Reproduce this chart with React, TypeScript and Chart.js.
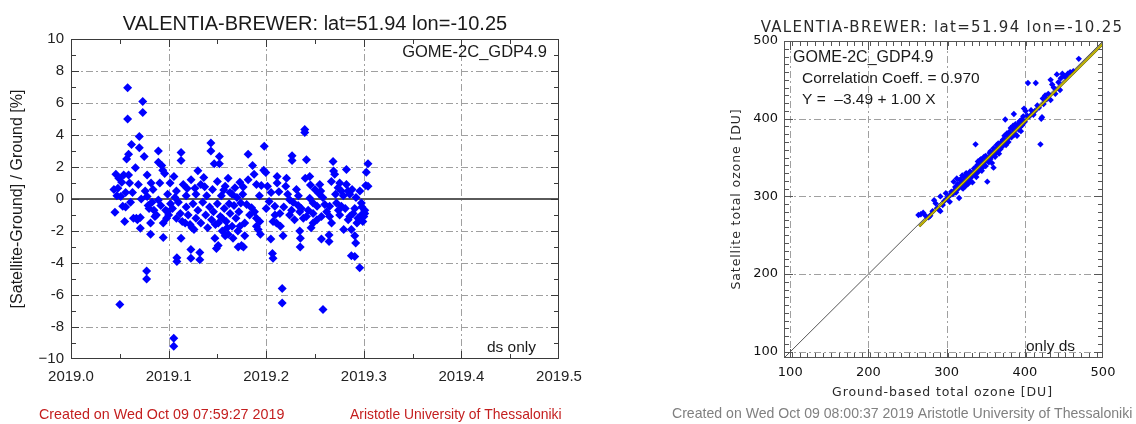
import React, { useEffect, useRef } from "react";
import { Chart, registerables } from "chart.js";

Chart.register(...registerables);

// ---------------- Left panel: time series of relative difference ----------------
const leftTitle = "VALENTIA-BREWER: lat=51.94 lon=-10.25";
const leftXTicks = [2019.0, 2019.1, 2019.2, 2019.3, 2019.4, 2019.5];
const leftYTicks = [-10, -8, -6, -4, -2, 0, 2, 4, 6, 8, 10];

// [decimal year, (Satellite-Ground)/Ground %]
const biasPoints: [number, number][] = [
  [2019.044, 0.6], [2019.045, -0.83], [2019.046, 1.55], [2019.047, 0.2], [2019.048, 0.67],
  [2019.049, 1.3], [2019.050, -6.6], [2019.051, 0.15], [2019.052, 1.05], [2019.053, -0.45],
  [2019.054, 1.5], [2019.055, -1.4], [2019.056, 0.4], [2019.056, -0.5], [2019.057, 2.5],
  [2019.058, 6.95], [2019.058, 5.0], [2019.059, 2.8], [2019.059, 1.5], [2019.060, 1.0],
  [2019.061, -0.2], [2019.062, 3.4], [2019.063, 0.4], [2019.064, -1.2], [2019.066, 1.95],
  [2019.067, -1.2], [2019.068, -1.3], [2019.069, 0.9], [2019.070, 3.9], [2019.070, 3.2],
  [2019.071, -1.15], [2019.071, -1.83], [2019.072, 0.0], [2019.0735, 6.1], [2019.0735, 5.4],
  [2019.075, 2.65], [2019.076, 0.5], [2019.0775, -4.5], [2019.0775, -5.0], [2019.078, 1.5],
  [2019.078, 0.15], [2019.079, -0.4], [2019.080, -0.6], [2019.0815, -1.5], [2019.0815, -2.2],
  [2019.082, 1.0], [2019.083, -0.2], [2019.084, 0.6], [2019.085, -0.7], [2019.086, -1.1],
  [2019.0875, -1.0], [2019.0895, 3.0], [2019.0895, 2.3], [2019.0895, -0.06], [2019.091, 1.0],
  [2019.092, -0.4], [2019.093, 2.1], [2019.094, 1.8], [2019.0945, -1.5], [2019.0945, -2.4],
  [2019.096, 1.6], [2019.097, -0.7], [2019.098, -1.2], [2019.099, 0.3], [2019.099, -0.8],
  [2019.100, -1.0], [2019.1015, 1.0], [2019.102, -0.3], [2019.104, -0.6], [2019.1053, -8.7],
  [2019.1053, -9.2], [2019.1055, 1.4], [2019.1065, 0.1], [2019.108, -1.2], [2019.108, 0.5],
  [2019.1085, -3.67], [2019.1085, -3.9], [2019.110, -0.2], [2019.112, -0.9], [2019.1128, 2.9],
  [2019.1128, 2.4], [2019.1128, -2.46], [2019.114, -1.4], [2019.115, 0.9], [2019.117, -1.5],
  [2019.118, -0.5], [2019.118, 0.2], [2019.119, 0.65], [2019.120, -1.0], [2019.122, -1.6],
  [2019.1228, -3.15], [2019.1228, -3.7], [2019.123, 1.2], [2019.124, -1.8], [2019.125, -0.3],
  [2019.126, -1.9], [2019.127, 0.67], [2019.128, -1.2], [2019.128, 0.3], [2019.130, 1.77],
  [2019.130, -0.7], [2019.132, -3.35], [2019.132, -3.8], [2019.133, -1.5], [2019.133, 0.9],
  [2019.135, -0.2], [2019.136, 1.35], [2019.137, 0.77], [2019.138, -1.0], [2019.139, 0.2],
  [2019.140, -1.8], [2019.142, -0.5], [2019.1433, 3.5], [2019.1433, 3.0], [2019.144, -1.3],
  [2019.145, 0.6], [2019.146, -0.8], [2019.1467, 2.2], [2019.1474, -2.46], [2019.148, -1.6],
  [2019.149, -3.1], [2019.150, -0.3], [2019.150, 1.1], [2019.1508, -2.9], [2019.151, -1.5],
  [2019.152, 2.65], [2019.152, 2.2], [2019.153, -1.1], [2019.154, 0.2], [2019.155, -2.0],
  [2019.155, -1.2], [2019.1565, 0.56], [2019.157, -0.6], [2019.158, -2.3], [2019.158, 0.8],
  [2019.159, -1.4], [2019.160, -1.8], [2019.161, -2.2], [2019.161, 1.3], [2019.162, -0.3],
  [2019.163, -0.9], [2019.163, 0.4], [2019.165, 0.3], [2019.165, -1.7], [2019.166, -2.46],
  [2019.167, -0.4], [2019.168, 0.7], [2019.169, -1.2], [2019.170, 0.1], [2019.171, -2.0],
  [2019.1713, -3.0], [2019.172, -0.8], [2019.173, 1.05], [2019.173, -1.7], [2019.174, -0.25],
  [2019.1747, -2.9], [2019.176, 0.3], [2019.1764, 0.75], [2019.1767, -3.0], [2019.178, -2.3],
  [2019.178, -1.5], [2019.180, -0.35], [2019.1815, 1.2], [2019.1815, 2.8], [2019.183, -1.0],
  [2019.185, -0.55], [2019.186, 2.1], [2019.1876, 1.55], [2019.188, -0.8], [2019.190, 0.9],
  [2019.190, -1.2], [2019.190, -1.7], [2019.1917, -1.9], [2019.193, 0.2], [2019.1934, -1.4],
  [2019.194, -2.2], [2019.195, 0.85], [2019.1975, 1.8], [2019.198, 3.3], [2019.1996, 1.65],
  [2019.200, -0.6], [2019.2013, 0.8], [2019.203, -0.15], [2019.2047, -2.5], [2019.205, 0.4],
  [2019.2064, -3.4], [2019.207, -3.7], [2019.207, -1.4], [2019.2088, -0.45], [2019.209, -1.0],
  [2019.2105, -1.5], [2019.2112, 1.4], [2019.2112, 1.0], [2019.213, 0.45], [2019.214, -0.9],
  [2019.2146, -1.7], [2019.2164, -5.6], [2019.2164, -6.5], [2019.2173, -2.3], [2019.218, -0.5],
  [2019.220, 0.8], [2019.2208, 1.3], [2019.222, 0.3], [2019.224, -0.05], [2019.224, -1.0],
  [2019.226, -0.7], [2019.2265, 2.7], [2019.2265, 2.4], [2019.2275, -0.2], [2019.229, -1.3],
  [2019.231, 0.6], [2019.2327, -0.4], [2019.233, 0.2], [2019.2344, -0.8], [2019.2344, -2.0],
  [2019.2348, -3.0], [2019.235, -2.45], [2019.236, -0.6], [2019.238, -1.2], [2019.2395, 4.35],
  [2019.2395, 4.15], [2019.240, 1.3], [2019.2412, 2.45], [2019.2412, -1.1], [2019.243, -0.7],
  [2019.2446, 1.4], [2019.2446, 0.05], [2019.2453, 0.87], [2019.246, -1.8], [2019.248, -0.25],
  [2019.248, -0.9], [2019.248, -1.5], [2019.250, 0.6], [2019.2521, -0.45], [2019.252, -1.3],
  [2019.254, 0.35], [2019.2549, 0.9], [2019.2559, 0.5], [2019.2566, -1.1], [2019.2566, -2.5],
  [2019.258, 0.1], [2019.2582, -6.9], [2019.260, -0.35], [2019.262, -0.8], [2019.2644, -2.25],
  [2019.2644, -2.65], [2019.265, -0.45], [2019.265, -1.1], [2019.2668, 1.1], [2019.267, -1.5],
  [2019.2685, 2.35], [2019.269, 1.75], [2019.2702, 1.55], [2019.271, 0.3], [2019.272, -0.25],
  [2019.2736, 0.7], [2019.274, -0.7], [2019.2753, 1.0], [2019.2753, -1.0], [2019.277, 0.5],
  [2019.277, -0.45], [2019.279, 0.2], [2019.2794, -1.9], [2019.281, -0.6], [2019.2822, 1.85],
  [2019.2822, 0.9], [2019.2838, 0.5], [2019.284, -1.3], [2019.2856, 0.3], [2019.2856, -1.1],
  [2019.2873, -1.9], [2019.2873, -3.55], [2019.288, 0.6], [2019.289, -0.9], [2019.2907, -3.6],
  [2019.2907, -2.3], [2019.2907, -0.6], [2019.2917, -2.75], [2019.292, 0.1], [2019.293, -1.5],
  [2019.294, -1.2], [2019.2958, -4.3], [2019.296, 0.5], [2019.2975, -0.25], [2019.2975, -1.0],
  [2019.298, -0.5], [2019.299, -1.4], [2019.300, -1.1], [2019.301, -0.7], [2019.301, -0.9],
  [2019.302, 0.85], [2019.3026, 1.67], [2019.3043, 2.2], [2019.3043, 0.8],
];

// ---------------- Right panel: satellite vs ground scatter ----------------
const rightTitle = "VALENTIA-BREWER: lat=51.94 lon=-10.25";
const rightTicks = [100, 200, 300, 400, 500];
const rightRange = [92, 500];

// [ground-based DU, satellite DU]
const ozonePairs: [number, number][] = [
  [264, 276], [267, 277], [270, 279], [273, 275], [277, 273], [279, 275], [282, 281], [284, 295],
  [286, 291], [288, 285], [290, 283], [292, 281], [292, 300], [295, 289], [297, 294], [299, 304],
  [300, 297], [302, 299], [304, 293], [305, 302], [306, 306], [308, 303], [309, 319], [310, 308],
  [311, 312], [311, 306], [312, 305], [313, 323], [313, 309], [314, 316], [315, 310], [316, 298],
  [316, 313], [317, 321], [318, 314], [318, 322], [319, 318], [320, 327], [320, 311], [321, 316],
  [321, 310], [322, 320], [323, 325], [323, 318], [324, 313], [325, 318], [325, 330], [326, 327],
  [327, 322], [327, 316], [328, 317], [329, 326], [329, 321], [330, 332], [330, 320], [331, 324],
  [331, 330], [332, 329], [333, 318], [333, 327], [335, 336], [335, 330], [336, 328], [337, 367],
  [337, 333], [338, 325], [338, 337], [339, 340], [340, 331], [340, 345], [341, 336], [342, 344],
  [342, 336], [343, 347], [344, 338], [344, 348], [345, 333], [346, 342], [346, 337], [347, 340],
  [348, 351], [348, 344], [349, 345], [350, 339], [350, 352], [351, 347], [352, 319], [352, 346],
  [353, 350], [354, 344], [354, 349], [355, 356], [356, 348], [356, 358], [357, 352], [358, 343],
  [358, 352], [359, 357], [360, 337], [360, 362], [361, 354], [362, 351], [362, 357], [363, 360],
  [364, 366], [365, 357], [366, 362], [366, 368], [367, 355], [368, 365], [369, 361], [370, 370],
  [370, 364], [371, 364], [372, 373], [373, 368], [374, 378], [374, 372], [375, 399], [375, 371],
  [376, 366], [377, 381], [378, 374], [378, 380], [379, 370], [380, 383], [381, 377], [382, 388],
  [382, 379], [383, 376], [384, 380], [385, 391], [386, 406], [386, 385], [386, 379], [387, 381],
  [388, 393], [389, 387], [390, 378], [390, 389], [391, 392], [392, 386], [393, 396], [394, 389],
  [394, 397], [395, 384], [396, 399], [397, 392], [398, 403], [399, 413], [400, 396], [401, 410],
  [403, 404], [404, 446], [406, 403], [408, 411], [410, 407], [411, 405], [413, 410], [414, 446],
  [416, 417], [418, 414], [420, 367], [421, 400], [422, 402], [423, 426], [424, 419], [426, 430],
  [428, 425], [430, 432], [433, 424], [433, 450], [435, 444], [437, 440], [439, 432], [441, 457],
  [443, 447], [445, 437], [446, 452], [448, 458], [450, 455], [452, 454], [455, 458], [458, 460],
  [462, 461], [469, 477],
];

// 1:1 reference and regression line Y = -3.49 + 1.00 X
const diagonalX = [92, 500];
const diagonalY = [92, 500];
const fitX = [265, 500];
const fitY = [261.5, 496.5];

// ---------------- text helpers ----------------
type TextItem = {
  text: string;
  x: number;
  y: number;
  font: string;
  color: string;
  align?: CanvasTextAlign;
  baseline?: CanvasTextBaseline;
  rotate?: number;
  spacing?: number;
};

type FrameCfg = {
  xMin: number; xMax: number; xMajor: number[]; xMinorStep: number;
  yMin: number; yMax: number; yMajor: number[]; yMinorStep: number;
  gridColor: string; dash: number[]; frameColor: string;
  majorLen: number; minorLen: number;
  zeroLine?: boolean;
  texts: TextItem[];
};

function makeFramePlugin(cfg: FrameCfg) {
  return {
    id: "idlFrame",
    beforeDatasetsDraw(chart: any) {
      const { ctx, chartArea: a, scales } = chart;
      const xs = scales.x, ys = scales.y;
      ctx.save();
      ctx.strokeStyle = cfg.gridColor;
      ctx.lineWidth = 1;
      ctx.setLineDash(cfg.dash);
      for (const v of cfg.xMajor) {
        if (v <= cfg.xMin || v >= cfg.xMax) continue;
        const px = Math.round(xs.getPixelForValue(v)) + 0.5;
        ctx.beginPath(); ctx.moveTo(px, a.top); ctx.lineTo(px, a.bottom); ctx.stroke();
      }
      for (const v of cfg.yMajor) {
        if (v <= cfg.yMin || v >= cfg.yMax) continue;
        if (cfg.zeroLine && v === 0) continue;
        const py = Math.round(ys.getPixelForValue(v)) + 0.5;
        ctx.beginPath(); ctx.moveTo(a.left, py); ctx.lineTo(a.right, py); ctx.stroke();
      }
      ctx.setLineDash([]);
      if (cfg.zeroLine) {
        const py = ys.getPixelForValue(0);
        ctx.strokeStyle = "#5a5a5a";
        ctx.lineWidth = 2;
        ctx.beginPath(); ctx.moveTo(a.left, py); ctx.lineTo(a.right, py); ctx.stroke();
      }
      ctx.restore();
    },
    afterDatasetsDraw(chart: any) {
      const { ctx, chartArea: a, scales } = chart;
      const xs = scales.x, ys = scales.y;
      ctx.save();
      ctx.strokeStyle = cfg.frameColor;
      ctx.lineWidth = 1;
      ctx.strokeRect(a.left + 0.5, a.top + 0.5, a.right - a.left - 1, a.bottom - a.top - 1);
      const drawX = (v: number, len: number) => {
        const px = Math.round(xs.getPixelForValue(v)) + 0.5;
        ctx.beginPath();
        ctx.moveTo(px, a.bottom); ctx.lineTo(px, a.bottom - len);
        ctx.moveTo(px, a.top); ctx.lineTo(px, a.top + len);
        ctx.stroke();
      };
      const drawY = (v: number, len: number) => {
        const py = Math.round(ys.getPixelForValue(v)) + 0.5;
        ctx.beginPath();
        ctx.moveTo(a.left, py); ctx.lineTo(a.left + len, py);
        ctx.moveTo(a.right, py); ctx.lineTo(a.right - len, py);
        ctx.stroke();
      };
      const nx = Math.round((cfg.xMax - cfg.xMin) / cfg.xMinorStep);
      for (let i = 0; i <= nx; i++) {
        const v = cfg.xMin + i * cfg.xMinorStep;
        if (v > cfg.xMin && v < cfg.xMax) drawX(v, cfg.minorLen);
      }
      const yStart = Math.ceil(cfg.yMin / cfg.yMinorStep) * cfg.yMinorStep;
      const ny = Math.round((cfg.yMax - yStart) / cfg.yMinorStep);
      for (let i = 0; i <= ny; i++) {
        const v = yStart + i * cfg.yMinorStep;
        if (v > cfg.yMin && v < cfg.yMax) drawY(v, cfg.minorLen);
      }
      for (const v of cfg.xMajor) if (v > cfg.xMin && v < cfg.xMax) drawX(v, cfg.majorLen);
      for (const v of cfg.yMajor) if (v > cfg.yMin && v < cfg.yMax) drawY(v, cfg.majorLen);
      ctx.restore();
    },
    afterDraw(chart: any) {
      const { ctx } = chart;
      for (const t of cfg.texts) {
        ctx.save();
        ctx.font = t.font;
        ctx.fillStyle = t.color;
        ctx.textAlign = t.align || "left";
        ctx.textBaseline = t.baseline || "alphabetic";
        (ctx as any).letterSpacing = (t.spacing || 0) + "px";
        ctx.translate(t.x, t.y);
        if (t.rotate) ctx.rotate(t.rotate);
        ctx.fillText(t.text, 0, 0);
        ctx.restore();
      }
    },
  };
}

const LIB = '"Liberation Sans", Arial, sans-serif';
const DJV = '"DejaVu Sans", sans-serif';
const RIGHT_OFFSET = 660;

export default function App() {
  const leftRef = useRef<HTMLCanvasElement>(null);
  const rightRef = useRef<HTMLCanvasElement>(null);

  useEffect(() => {
    const leftTexts: TextItem[] = [
      { text: leftTitle, x: 315, y: 30, font: `20px ${LIB}`, color: "#1a1a1a", align: "center" },
      { text: "GOME-2C_GDP4.9", x: 547, y: 57, font: `16.5px ${LIB}`, color: "#1a1a1a", align: "right" },
      { text: "ds only", x: 536, y: 352, font: `15.5px ${LIB}`, color: "#1a1a1a", align: "right" },
      { text: "[Satellite-Ground] / Ground [%]", x: 18, y: 199, font: `16px ${LIB}`, color: "#1a1a1a", align: "center", baseline: "middle", rotate: -Math.PI / 2 },
      { text: "Created on Wed Oct 09 07:59:27 2019", x: 39, y: 419, font: `14.3px ${LIB}`, color: "#c41e1e" },
      { text: "Aristotle University of Thessaloniki", x: 350, y: 419, font: `13.9px ${LIB}`, color: "#c41e1e" },
    ];
    const o = RIGHT_OFFSET;
    const rightTexts: TextItem[] = [
      { text: rightTitle, x: 942 - o, y: 32, font: `15px ${DJV}`, color: "#2a2a2a", align: "center", spacing: 1.3 },
      { text: "GOME-2C_GDP4.9", x: 793 - o, y: 62, font: `16px ${LIB}`, color: "#1a1a1a" },
      { text: "Correlation Coeff. = 0.970", x: 802 - o, y: 83, font: `15.5px ${LIB}`, color: "#1a1a1a" },
      { text: "Y =  \u20133.49 + 1.00 X", x: 802 - o, y: 104, font: `15.5px ${LIB}`, color: "#1a1a1a" },
      { text: "only ds", x: 1026 - o, y: 351, font: `15.5px ${LIB}`, color: "#1a1a1a" },
      { text: "Ground-based total ozone [DU]", x: 942.5 - o, y: 396, font: `12.5px ${DJV}`, color: "#2a2a2a", align: "center", spacing: 0.9 },
      { text: "Satellite total ozone [DU]", x: 737 - o, y: 199, font: `12.5px ${DJV}`, color: "#2a2a2a", align: "center", baseline: "middle", rotate: -Math.PI / 2, spacing: 0.9 },
      { text: "Created on Wed Oct 09 08:00:37 2019 Aristotle University of Thessaloniki", x: 672 - o, y: 418, font: `14.1px ${LIB}`, color: "#808080" },
    ];

    const leftChart = new Chart(leftRef.current as HTMLCanvasElement, {
      type: "scatter",
      data: {
        datasets: [
          {
            data: biasPoints.map(([t, v]) => ({ x: t, y: v })),
            pointStyle: "rectRot",
            pointRadius: 4.5,
            backgroundColor: "#0000ff",
            borderWidth: 0,
          },
        ],
      },
      options: {
        animation: false,
        responsive: false,
        events: [],
        layout: { padding: { left: 0, right: 101, top: 39, bottom: 35 } },
        plugins: { legend: { display: false }, tooltip: { enabled: false }, title: { display: false } },
        scales: {
          x: {
            type: "linear",
            min: 2019.0,
            max: 2019.5,
            grid: { display: false, drawTicks: false },
            border: { display: false },
            afterBuildTicks: (s: any) => { s.ticks = leftXTicks.map((value) => ({ value })); },
            afterFit: (s: any) => { s.height = 30; s.paddingLeft = 0; s.paddingRight = 0; },
            ticks: {
              autoSkip: false, maxRotation: 0, padding: 9, color: "#222",
              font: { family: "Liberation Sans", size: 15 },
              callback: (v: any) => Number(v).toFixed(1),
            },
          },
          y: {
            type: "linear",
            min: -10,
            max: 10,
            grid: { display: false, drawTicks: false },
            border: { display: false },
            afterBuildTicks: (s: any) => { s.ticks = leftYTicks.map((value) => ({ value })); },
            afterFit: (s: any) => { s.width = 71; s.paddingTop = 0; s.paddingBottom = 0; },
            ticks: {
              autoSkip: false, padding: 7, color: "#222",
              font: { family: "Liberation Sans", size: 15 },
              callback: (v: any) => (Number(v) === -10 ? "\u221210" : String(v)),
            },
          },
        },
      },
      plugins: [
        makeFramePlugin({
          xMin: 2019.0, xMax: 2019.5, xMajor: leftXTicks, xMinorStep: 0.05,
          yMin: -10, yMax: 10, yMajor: leftYTicks, yMinorStep: 1,
          gridColor: "#a0a0a0", dash: [7, 3, 2, 3], frameColor: "#3a3a3a",
          majorLen: 8, minorLen: 5, zeroLine: true, texts: leftTexts,
        }),
      ],
    } as any);

    const rightChart = new Chart(rightRef.current as HTMLCanvasElement, {
      type: "scatter",
      data: {
        datasets: [
          {
            data: fitX.map((x, i) => ({ x, y: fitY[i] })),
            showLine: true, borderColor: "#d8c800", borderWidth: 1.1, pointRadius: 0, order: 0,
          },
          {
            data: fitX.map((x, i) => ({ x, y: fitY[i] })),
            showLine: true, borderColor: "#6e6800", borderWidth: 2.6, pointRadius: 0, order: 1,
          },
          {
            data: ozonePairs.map(([g, s]) => ({ x: g, y: s })),
            pointStyle: "rectRot", pointRadius: 3.2, backgroundColor: "#0000ff", borderWidth: 0, order: 2,
          },
          {
            data: diagonalX.map((x, i) => ({ x, y: diagonalY[i] })),
            showLine: true, borderColor: "#555555", borderWidth: 1, pointRadius: 0, order: 3,
          },
        ],
      },
      options: {
        animation: false,
        responsive: false,
        events: [],
        layout: { padding: { left: 0, right: 33, top: 41, bottom: 36 } },
        plugins: { legend: { display: false }, tooltip: { enabled: false }, title: { display: false } },
        scales: {
          x: {
            type: "linear",
            min: rightRange[0],
            max: rightRange[1],
            grid: { display: false, drawTicks: false },
            border: { display: false },
            afterBuildTicks: (s: any) => { s.ticks = rightTicks.map((value) => ({ value })); },
            afterFit: (s: any) => { s.height = 30; s.paddingLeft = 0; s.paddingRight = 0; },
            ticks: {
              autoSkip: false, maxRotation: 0, padding: 7, color: "#111",
              font: { family: "DejaVu Sans", size: 13 },
              callback: (v: any) => String(v),
            },
          },
          y: {
            type: "linear",
            min: rightRange[0],
            max: rightRange[1],
            grid: { display: false, drawTicks: false },
            border: { display: false },
            afterBuildTicks: (s: any) => { s.ticks = rightTicks.map((value) => ({ value })); },
            afterFit: (s: any) => { s.width = 124; s.paddingTop = 0; s.paddingBottom = 0; },
            ticks: {
              autoSkip: false, padding: 6, color: "#111",
              font: { family: "DejaVu Sans", size: 13 },
              callback: (v: any) => String(v),
            },
          },
        },
      },
      plugins: [
        makeFramePlugin({
          xMin: rightRange[0], xMax: rightRange[1], xMajor: rightTicks, xMinorStep: 10,
          yMin: rightRange[0], yMax: rightRange[1], yMajor: rightTicks, yMinorStep: 10,
          gridColor: "#a0a0a0", dash: [7, 3, 2, 3], frameColor: "#555555",
          majorLen: 9, minorLen: 5, texts: rightTexts,
        }),
      ],
    } as any);

    return () => {
      leftChart.destroy();
      rightChart.destroy();
    };
  }, []);

  return (
    <div style={{ position: "absolute", left: 0, top: 0, width: 1136, height: 424, background: "#ffffff", overflow: "hidden" }}>
      <canvas ref={leftRef} width={660} height={424} style={{ position: "absolute", left: 0, top: 0 }} />
      <canvas ref={rightRef} width={476} height={424} style={{ position: "absolute", left: RIGHT_OFFSET, top: 0 }} />
    </div>
  );
}
